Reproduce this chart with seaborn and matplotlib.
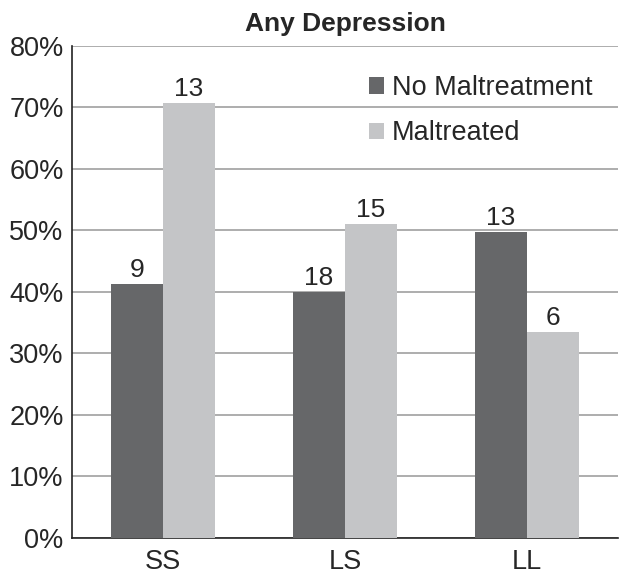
import matplotlib
matplotlib.use("Agg")
import matplotlib.pyplot as plt
import pandas as pd
import seaborn as sns
from matplotlib.ticker import PercentFormatter

genotypes = ["SS", "LS", "LL"]
groups = ["No Maltreatment", "Maltreated"]
no_maltreatment = [41.3, 40.0, 49.8]
maltreated = [70.8, 51.1, 33.5]
n_no_maltreatment = [9, 18, 13]
n_maltreated = [13, 15, 6]

df = pd.DataFrame({
    "genotype": genotypes * 2,
    "group": [groups[0]] * 3 + [groups[1]] * 3,
    "pct": no_maltreatment + maltreated,
})

sns.set_style("white")
plt.rcParams["font.family"] = ["Liberation Sans", "DejaVu Sans"]

fig = plt.figure(figsize=(6.29, 5.79), dpi=100)
ax = fig.add_axes([0.1145, 0.0713, 0.868, 0.8493])

sns.barplot(data=df, x="genotype", y="pct", hue="group", order=genotypes,
            hue_order=groups, palette=["#666769", "#c4c5c7"], width=0.572,
            saturation=1, linewidth=0, ax=ax, zorder=3)

for cont, counts in zip(ax.containers, [n_no_maltreatment, n_maltreated]):
    ax.bar_label(cont, labels=[str(c) for c in counts], padding=1, fontsize=19)

ax.set_ylim(0, 80)
ax.set_xlim(-0.5, 2.5)
ax.set_yticks(range(0, 81, 10))
ax.yaxis.set_major_formatter(PercentFormatter(decimals=0))
ax.yaxis.grid(True, color="#a0a0a0", linewidth=1.2, zorder=0)
ax.set_axisbelow(True)
ax.tick_params(axis="y", labelsize=19.5, length=0, pad=6)
ax.tick_params(axis="x", labelsize=19.5, length=0, pad=8)
ax.set_xlabel("")
ax.set_ylabel("")
for s in ["top", "right"]:
    ax.spines[s].set_visible(False)
ax.spines["left"].set_color("#222222")
ax.spines["bottom"].set_color("#222222")
ax.spines["left"].set_linewidth(1.2)
ax.spines["bottom"].set_linewidth(1.2)

ax.set_title("Any Depression", fontsize=19, fontweight="bold", pad=11)

leg = ax.legend(loc="upper left", bbox_to_anchor=(0.544, 0.941), frameon=False,
                fontsize=19.5, handlelength=0.55, handleheight=0.55,
                handletextpad=0.3, labelspacing=0.72, borderpad=0,
                borderaxespad=0)

fig.savefig("out.png", dpi=100)
